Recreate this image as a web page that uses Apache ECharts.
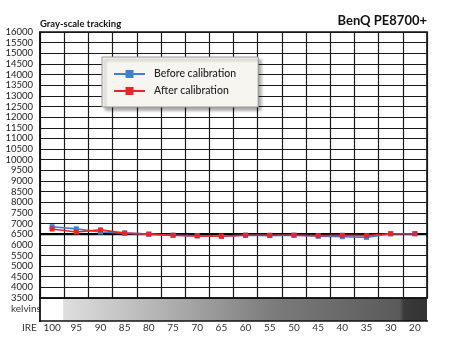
<!DOCTYPE html>
<html><head><meta charset="utf-8">
<script src="https://cdn.jsdelivr.net/npm/echarts@6/dist/echarts.min.js"></script>
<style>html,body{margin:0;padding:0;background:#fff}#c{width:450px;height:349px}</style>
</head><body><div id="c"></div>
<script>
const categories = ['100','95','90','85','80','75','70','65','60','55','50','45','40','35','30','20'];
const beforeCal = [6850, 6750, 6600, 6550, 6500, 6450, 6420, 6400, 6450, 6430, 6450, 6400, 6380, 6350, 6520, 6520];
const afterCal  = [6740, 6600, 6700, 6550, 6500, 6450, 6420, 6400, 6450, 6450, 6450, 6430, 6450, 6430, 6520, 6520];
const yMin = 3500, yMax = 16000, yStep = 500;
const referenceK = 6500;

const FONT = 'Lato';
const G = {left: 40, right: 23, top: 32, bottom: 51};
const chart = echarts.init(document.getElementById('c'), null, {renderer: 'canvas'});
chart.setOption({
  backgroundColor: '#fff',
  animation: false,
  textStyle: {fontFamily: FONT},
  grid: {left: G.left, right: G.right, top: G.top, bottom: G.bottom, show: true, borderColor: '#111', borderWidth: 1.6, backgroundColor: 'transparent'},
  legend: {
    left: 102, top: 57, orient: 'vertical',
    backgroundColor: '#f7f5ef', borderColor: '#9a9a9a', borderWidth: 1,
    shadowBlur: 3, shadowOffsetX: 3, shadowOffsetY: 3, shadowColor: 'rgba(0,0,0,0.35)',
    padding: [11, 22, 10, 11], itemGap: 5, itemWidth: 31, itemHeight: 10,
    textStyle: {fontFamily: FONT, fontSize: 10.5, fontWeight: 500, color: '#222', lineHeight: 12, padding: [0, 0, 0, 4]},
    data: ['Before calibration', 'After calibration']
  },
  xAxis: [{
    type: 'category', data: categories, boundaryGap: true,
    axisLine: {show: true, lineStyle: {color: '#111', width: 1.6}},
    axisTick: {show: false},
    axisLabel: {margin: 25, fontSize: 10, color: '#333', fontFamily: FONT, interval: 0},
    splitLine: {show: true, interval: 0, lineStyle: {color: '#1a1a1a', width: 1.2}}
  }, {
    type: 'value', min: 0, max: 1, show: false
  }],
  yAxis: {
    type: 'value', min: yMin, max: yMax, interval: yStep,
    axisLine: {show: true, lineStyle: {color: '#111', width: 1.6}},
    axisTick: {show: false},
    axisLabel: {margin: 7, fontSize: 9.5, color: '#222', fontFamily: FONT, formatter: v => String(v)},
    splitLine: {show: true, lineStyle: {color: '#1a1a1a', width: 1.2}}
  },
  graphic: [
    {type: 'rect', silent: true, z: 0, shape: {x: 40, y: 298, width: 387, height: 23},
     style: {fill: new echarts.graphic.LinearGradient(0, 0, 1, 0, [
       {offset: 0, color: '#ffffff'}, {offset: 0.059, color: '#ffffff'},
       {offset: 0.061, color: '#dedede'}, {offset: 0.3, color: '#b5b5b5'},
       {offset: 0.6, color: '#7c7c7c'}, {offset: 0.93, color: '#5a5a5a'},
       {offset: 0.94, color: '#3a3a3a'}, {offset: 1, color: '#333'}])}},
    {type: 'line', silent: true, z: 10, shape: {x1: 40, y1: 297, x2: 40, y2: 322}, style: {stroke: '#111', lineWidth: 1.8}},
    {type: 'line', silent: true, z: 10, shape: {x1: 39, y1: 321, x2: 428, y2: 321}, style: {stroke: '#111', lineWidth: 1.6}},
    {type: 'text', left: 11, top: 304, style: {text: 'kelvins', fontFamily: FONT, fontSize: 10, fill: '#333'}},
    {type: 'text', left: 22, top: 323, style: {text: 'IRE', fontFamily: FONT, fontSize: 10, fill: '#333'}},
    {type: 'text', left: 40, top: 19, style: {text: 'Gray-scale tracking', fontFamily: FONT, fontSize: 9.5, fontWeight: 'bold', fill: '#111'}},
    {type: 'text', right: 23, top: 14, style: {text: 'BenQ PE8700+', fontFamily: FONT, fontSize: 13, fontWeight: 'bold', fill: '#111'}}
  ],
  series: [
    {name: 'ref', type: 'line', xAxisIndex: 1, data: [[0, referenceK], [1, referenceK]], z: 1, silent: true,
     symbol: 'none', lineStyle: {color: '#000', width: 2.2}, itemStyle: {color: '#000'}},
    {name: 'Before calibration', type: 'line', data: beforeCal, symbol: 'rect', symbolSize: 5,
     itemStyle: {color: '#3b7fd8'}, lineStyle: {color: '#3b7fd8', width: 1.6}, z: 3},
    {name: 'After calibration', type: 'line', data: afterCal, symbol: 'rect', symbolSize: 5,
     itemStyle: {color: '#e8242b'}, lineStyle: {color: '#e8242b', width: 1.6}, z: 4}
  ]
});
</script></body></html>
